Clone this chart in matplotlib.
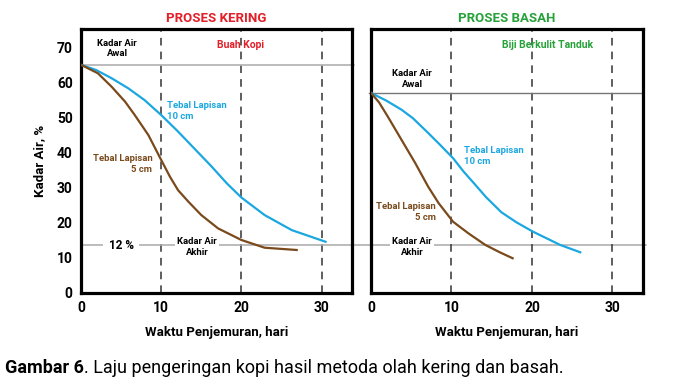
import matplotlib
matplotlib.use("Agg")
import matplotlib.pyplot as plt

plt.rcParams['font.family'] = ['Roboto', 'DejaVu Sans']

# ---- data ----
dry_10cm_days = [0, 1.9, 3.8, 5.9, 7.9, 10, 12.1, 14.2, 16.3, 18.2, 20, 22.9, 26.3, 30.5]
dry_10cm_vals = [65, 63.5, 61.2, 58.3, 55, 50.7, 46, 41, 36, 31.2, 27.2, 22.2, 17.9, 14.6]
dry_5cm_days = [0, 2.1, 3.8, 5.5, 6.7, 8.4, 10, 11.1, 12.1, 13.4, 15, 17.1, 20, 22.9, 26.9]
dry_5cm_vals = [65, 62.6, 58.8, 54.5, 50.7, 45, 37.9, 33.1, 29.3, 26, 22.2, 18.4, 15.1, 12.9, 12.25]

wet_10cm_days = [0, 1.9, 3.8, 5.2, 7.1, 8.5, 10.2, 11.5, 12.7, 14.3, 16.2, 18.1, 20.1, 23.5, 26]
wet_10cm_vals = [57, 54.8, 52.2, 49.8, 45.6, 42.4, 38.4, 34.6, 31.5, 27.3, 23, 20.1, 17.5, 13.7, 11.6]
wet_5cm_days = [0, 1.0, 2.1, 3.8, 5.5, 7.1, 8.4, 10.2, 12.1, 14.2, 16.0, 17.6]
wet_5cm_vals = [57, 54.3, 50.2, 43.6, 37, 30.3, 25.6, 20.3, 17, 13.7, 11.6, 9.9]

initial_dry = 65
initial_wet = 57
final_level = 13.6
grid_days = [10, 20, 30]
xticks = [0, 10, 20, 30]
yticks = [0, 10, 20, 30, 40, 50, 60, 70]

BLUE = '#1ba7e0'
BROWN = '#7a4a1c'
RED = '#e3202a'
GREEN = '#27a23a'

fig = plt.figure(figsize=(6.82, 3.81), dpi=100)
W, H = 682, 381

def mk_ax(x0, x1, y0, y1):
    return fig.add_axes([x0 / W, 1 - y1 / H, (x1 - x0) / W, (y1 - y0) / H])

axL = mk_ax(81, 352, 29, 293)
axR = mk_ax(371, 643, 29, 293)

XMAX = 33.8
YMAX = 75.2
for ax in (axL, axR):
    ax.set_xlim(0, XMAX)
    ax.set_ylim(0, YMAX)
    ax.set_facecolor('none')
    for s in ax.spines.values():
        s.set_linewidth(2.3)
        s.set_color('black')
    ax.tick_params(length=0, labelsize=10, pad=6)
    ax.set_xticks(xticks)
    ax.set_xticklabels([str(t) for t in xticks], fontweight='bold')
    for d in grid_days:
        ax.axvline(d, color='#333333', lw=1.1, ls=(0, (5, 4)), zorder=1)
    ax.set_xlabel('Waktu Penjemuran, hari', fontweight='bold', fontsize=9.5, labelpad=8)

axL.set_yticks(yticks)
axL.set_yticklabels([str(t) for t in yticks], fontweight='bold')
axL.set_ylabel('Kadar Air, %', fontweight='bold', fontsize=9.5, labelpad=8)
axR.set_yticks([])

# titles
axL.set_title('PROSES KERING', color=RED, fontweight='bold', fontsize=9.5, pad=5)
axR.set_title('PROSES BASAH', color=GREEN, fontweight='bold', fontsize=9.5, pad=5)

# initial moisture lines
axL.plot([0, XMAX + 0.2], [initial_dry, initial_dry], color='#aaaaaa', lw=1.1, clip_on=False, zorder=1)
axR.plot([0 - 0.2, XMAX], [initial_wet, initial_wet], color='#777777', lw=1.0, clip_on=False, zorder=1)

# final moisture line spanning both panels
axL.plot([0, 70.5], [final_level, final_level], color='#aaaaaa', lw=1.1, clip_on=False, zorder=1)

# curves
axL.plot(dry_10cm_days, dry_10cm_vals, color=BLUE, lw=1.6, zorder=4, solid_joinstyle='round')
axL.plot(dry_5cm_days, dry_5cm_vals, color=BROWN, lw=1.6, zorder=4, solid_joinstyle='round')
axR.plot(wet_10cm_days, wet_10cm_vals, color=BLUE, lw=1.6, zorder=4, solid_joinstyle='round')
axR.plot(wet_5cm_days, wet_5cm_vals, color=BROWN, lw=1.6, zorder=4, solid_joinstyle='round')

small = 6.8
wbox = dict(facecolor='white', edgecolor='none', pad=1.5)

# left annotations
axL.text(4.5, 69.6, 'Kadar Air\nAwal', ha='center', va='center', fontsize=small, fontweight='bold', linespacing=1.2)
axL.text(19.9, 70.7, 'Buah Kopi', ha='center', va='center', fontsize=7.5, fontweight='bold', color=RED)
axL.text(10.7, 51.9, 'Tebal Lapisan\n10 cm', ha='left', va='center', fontsize=small, fontweight='bold', color=BLUE, linespacing=1.3)
axL.text(8.9, 36.8, 'Tebal Lapisan\n5 cm', ha='right', va='center', fontsize=small, fontweight='bold', color=BROWN, linespacing=1.3)
axL.text(5.0, final_level, '12 %', ha='center', va='center', fontsize=8.5, fontweight='bold', bbox=dict(facecolor='white', edgecolor='none', pad=4), zorder=3)
axL.text(14.5, 13.1, 'Kadar Air\nAkhir', ha='center', va='center', fontsize=small, fontweight='bold', linespacing=1.2, bbox=wbox, zorder=3)

# right annotations
axR.text(22.0, 70.7, 'Biji Berkulit Tanduk', ha='center', va='center', fontsize=7.5, fontweight='bold', color=GREEN)
axR.text(5.1, 61.0, 'Kadar Air\nAwal', ha='center', va='center', fontsize=small, fontweight='bold', linespacing=1.2)
axR.text(11.6, 39.0, 'Tebal Lapisan\n10 cm', ha='left', va='center', fontsize=small, fontweight='bold', color=BLUE, linespacing=1.3)
axR.text(8.1, 23.0, 'Tebal Lapisan\n5 cm', ha='right', va='center', fontsize=small, fontweight='bold', color=BROWN, linespacing=1.3)
axR.text(5.1, 13.1, 'Kadar Air\nAkhir', ha='center', va='center', fontsize=small, fontweight='bold', linespacing=1.2, bbox=wbox, zorder=3)

# caption: bold part + normal part
t1 = fig.text(5 / W, 1 - 368 / H, 'Gambar 6', fontsize=13, fontweight='bold', va='center', ha='left')
fig.canvas.draw()
r = fig.canvas.get_renderer()
bb = t1.get_window_extent(renderer=r)
fig.text(bb.x1 / (W), 1 - 368 / H, '. Laju pengeringan kopi hasil metoda olah kering dan basah.',
         fontsize=13, va='center', ha='left')

fig.savefig('out.png', dpi=100)
